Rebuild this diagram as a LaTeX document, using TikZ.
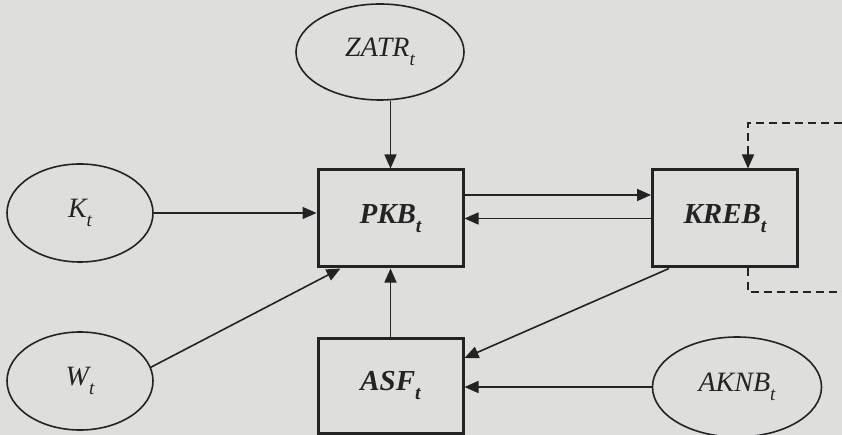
\documentclass[tikz,border=0pt]{standalone}
\usepackage{fontspec}
\usepackage{graphicx}
\setmainfont{Liberation Serif}
\usetikzlibrary{arrows.meta,shapes.geometric}
\definecolor{paper}{RGB}{222,222,220}
\definecolor{ink}{RGB}{35,35,35}
\newcommand{\mylab}[2]{#1\raisebox{-0.32em}{\scalebox{0.68}{#2}}}
\tikzset{
  box/.style={draw=ink, line width=3pt, minimum width=145pt, minimum height=97pt,
    inner sep=0pt, text=ink, font=\fontsize{29}{31}\selectfont\bfseries\itshape},
  oval/.style={ellipse, draw=ink, line width=1.6pt, inner sep=0pt, text=ink,
    font=\fontsize{28}{30}\selectfont\itshape},
  conn/.style={draw=ink, line width=1.6pt, -{Triangle[length=14pt,width=12pt]}},
  dashline/.style={draw=ink, line width=1.6pt, dash pattern=on 8pt off 5pt}
}
\begin{document}
\begin{tikzpicture}[x=1pt,y=-1pt]
\fill[paper] (0,0) rectangle (842,435);
\useasboundingbox (0,0) rectangle (842,435);
\clip (0,0) rectangle (842,435);
% boxes
\node[box] (PKB) at (390.5,218.5) {\mylab{PKB}{t}};
\node[box] (KREB) at (725,218.5) {\mylab{KREB}{t}};
\node[box, minimum height=95pt] (ASF) at (390.5,385.5) {\mylab{ASF}{t}};
% ellipses
\node[oval, minimum width=168pt, minimum height=96pt] (ZATR) at (380,52) {\mylab{ZATR}{t}};
\node[oval, minimum width=146pt, minimum height=98pt] (K) at (80,213) {\mylab{K}{t}};
\node[oval, minimum width=146pt, minimum height=98pt] (W) at (80,381) {\mylab{W}{t}};
\node[oval, minimum width=169pt, minimum height=100pt] (AKNB) at (737,387) {\mylab{AKNB}{t}};
% helper coordinates
\coordinate (wt) at ([xshift=24pt]PKB.south west);
\coordinate (ks) at ([xshift=18pt]KREB.south west);
\coordinate (at) at ([yshift=27.5pt]ASF.east);
\coordinate (dtop) at (748,123);
\coordinate (dtopR) at (842,123);
\coordinate (dbot) at (748,292);
\coordinate (dbotR) at (842,292);
% connectors
\draw[conn] (ZATR.south -| PKB.north) -- (PKB.north);
\draw[conn] (K.east) -- (K.east -| PKB.west);
\draw[conn] (W.11) -- (wt);
\draw[conn] (ASF.north) -- (PKB.south);
\draw[conn] ([yshift=23.5pt]PKB.east) -- ([yshift=23.5pt]KREB.west);
\draw[conn] (KREB.west) -- (PKB.east);
\draw[conn] (ks) -- (at);
\draw[conn] (AKNB.west) -- (AKNB.west -| ASF.east);
% dashed feedback
\draw[dashline] (dtopR) -- (dtop) -- (dtop |- KREB.north);
\draw[conn] ([yshift=14pt]dtop |- KREB.north) -- (dtop |- KREB.north);
\draw[dashline] (dtop |- KREB.south) -- (dbot) -- (dbotR);
\end{tikzpicture}
\end{document}
